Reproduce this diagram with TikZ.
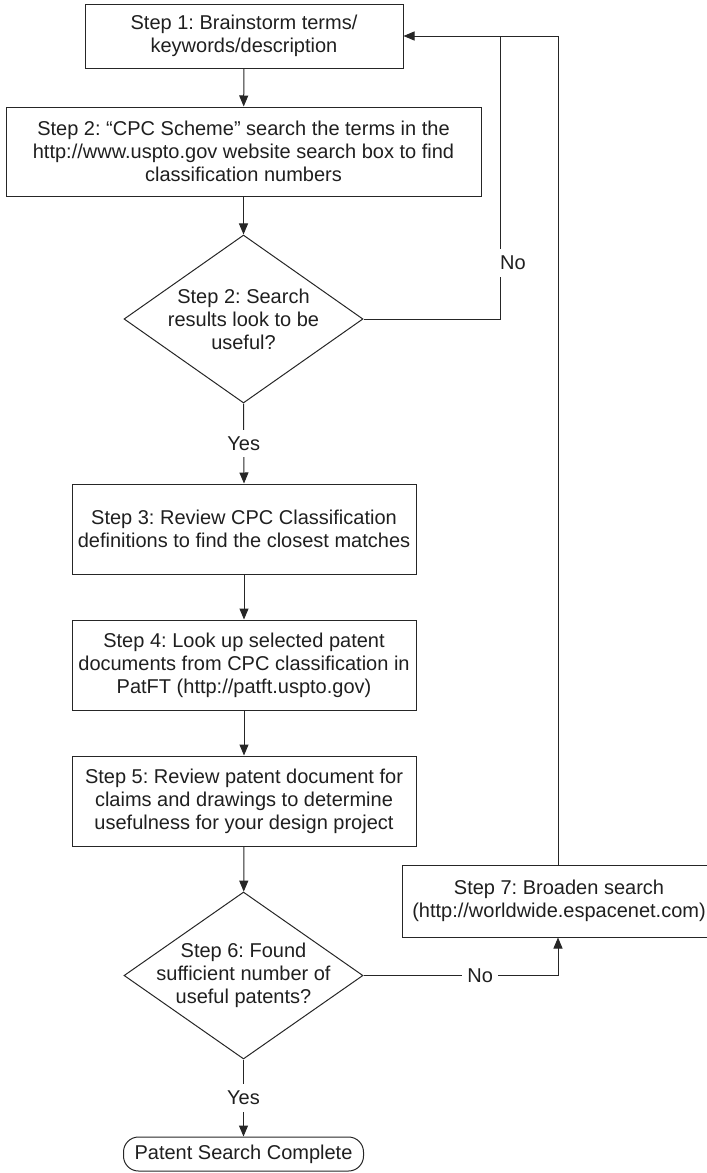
\documentclass[tikz,border=0pt]{standalone}
\usepackage{fontspec}
\setmainfont{Liberation Sans}
\usetikzlibrary{arrows.meta,shapes.geometric}
\frenchspacing
\begin{document}
\begin{tikzpicture}[x=1pt,y=-1pt,
  every node/.style={font=\fontsize{20}{23}\selectfont, text=black!88},
  box/.style={draw=black!85, line width=1pt, rectangle, inner sep=0pt, align=center},
  decision/.style={draw=black!85, line width=1pt, diamond, inner sep=0pt,
    minimum width=239pt, minimum height=168pt},
  terminal/.style={draw=black!85, line width=1pt, rectangle, rounded corners=15pt,
    inner sep=0pt, minimum width=240pt, minimum height=34pt},
  flow/.style={draw=black!85, line width=1pt},
  arrow/.style={flow, -{Triangle[length=11pt,width=9pt]}},
  tag/.style={fill=white, inner xsep=5pt, inner ysep=7pt}
]
\useasboundingbox (0,0) rectangle (707,1173);
\clip (0,0) rectangle (707,1173);

% process boxes
\node[box, minimum width=318pt, minimum height=64pt] (s1) at (244,36)
  {Step 1: Brainstorm terms/\\keywords/description};
\node[box, minimum width=475pt, minimum height=89pt] (s2) at (243.5,151.5)
  {Step 2: “CPC Scheme” search the terms in the\\http://www.uspto.gov website search box to find\\classification numbers};
\node[decision] (d1) at (243.5,319) {};
\node[align=center] (d1t) at (d1.center) {Step 2: Search\\results look to be\\useful?};
\node[box, minimum width=344pt, minimum height=90pt] (s3) at (244,529)
  {Step 3: Review CPC Classification\\definitions to find the closest matches};
\node[box, minimum width=344pt, minimum height=90pt] (s4) at (244,665)
  {Step 4: Look up selected patent\\documents from CPC classification in\\PatFT (http://patft.uspto.gov)};
\node[box, minimum width=344pt, minimum height=90pt] (s5) at (244,801)
  {Step 5: Review patent document for\\claims and drawings to determine\\usefulness for your design project};
\node[decision, minimum height=167pt] (d2) at (243.5,975.5) {};
\node[align=center] (d2t) at (d2.center) {Step 6: Found\\sufficient number of\\useful patents?};
\node[box, minimum width=314pt, minimum height=72pt] (s7) at (559,901)
  {Step 7: Broaden search\\(http://worldwide.espacenet.com)};
\node[terminal] (end) at (243.5,1154) {Patent Search Complete};

% return paths
\coordinate (j1) at (500,36);
\coordinate (lp) at (558,36);

% main flow
\draw[arrow] (s1) -- (s2);
\draw[arrow] (s2) -- (d1);
\draw[arrow] (d1.south) -- node[tag] {Yes} (s3.north);
\draw[arrow] (s3) -- (s4);
\draw[arrow] (s4) -- (s5);
\draw[arrow] (s5) -- (d2);
\draw[arrow] (d2.south) -- node[tag] {Yes} (end.north);

% "No" branches
\draw[flow] (d1.east) -| (j1);
\node[tag, anchor=west] (no1) at (495,263) {No};
\draw[arrow] (d2.east) -- node[tag, pos=0.6] {No} (lp |- d2.east) -- (lp |- s7.south);
\draw[arrow] (lp |- s7.north) -- (lp) -- (s1.east);
\end{tikzpicture}
\end{document}
